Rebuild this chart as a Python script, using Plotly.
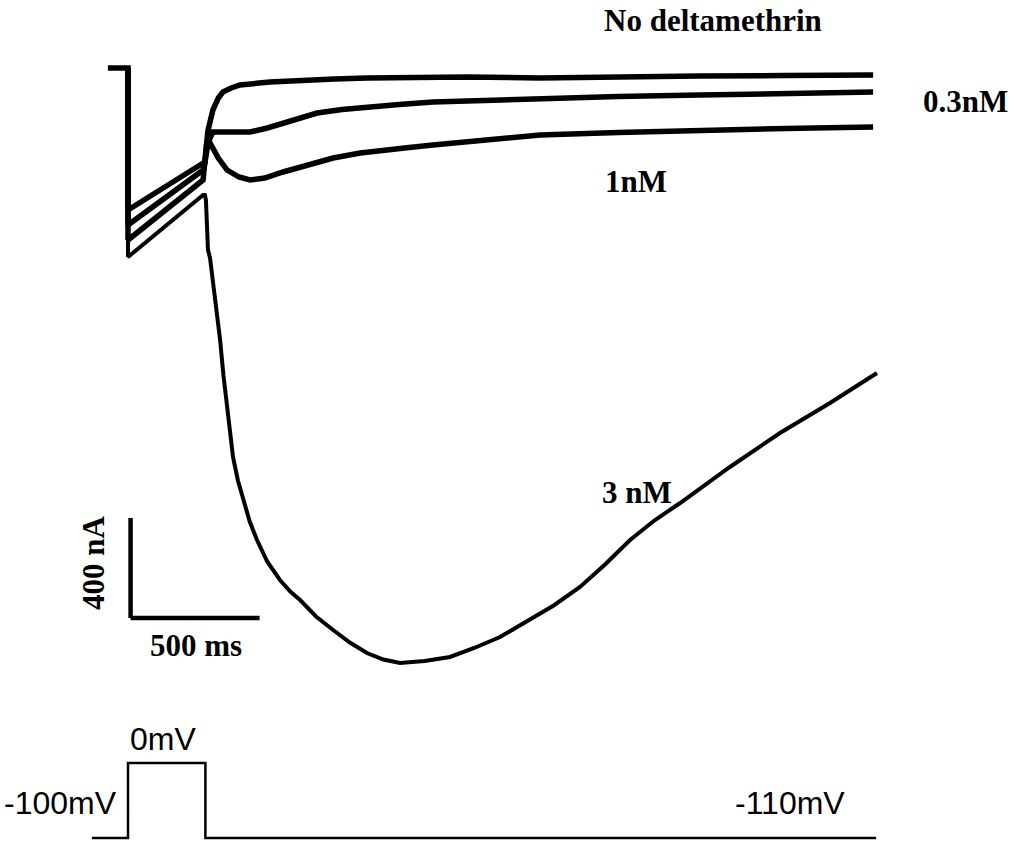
import plotly.graph_objects as go

# ---- data (time in ms, current in nA) ----
t_none = [-78, -8, 0, 0, 291, 298, 310, 329, 350, 368, 400, 434, 550, 667, 800, 926, 1100, 1314, 1597, 1900, 2217, 2550, 2888]
i_none = [0, 0, 0, -568, -376, -376, -250, -168, -120, -96, -80, -68, -56, -48, -44, -40, -38, -36, -40, -34, -32, -30, -28]

t_03 = [0, 0, 291, 298, 310, 329, 400, 473, 540, 601, 670, 733, 830, 926, 1050, 1182, 1400, 1597, 1900, 2217, 2550, 2888]
i_03 = [0, -628, -408, -380, -300, -256, -256, -256, -240, -220, -200, -180, -166, -156, -146, -136, -128, -120, -114, -108, -102, -96]

t_1 = [0, 0, 291, 298, 305, 318, 350, 384, 430, 473, 530, 601, 700, 795, 900, 988, 1090, 1182, 1280, 1376, 1480, 1597, 1900, 2217, 2550, 2888]
i_1 = [0, -688, -448, -380, -300, -300, -360, -408, -436, -448, -440, -416, -388, -360, -340, -328, -318, -308, -298, -288, -278, -268, -258, -248, -242, -236]

t_3 = [0, 0, 291, 298, 302, 310, 318, 329, 343, 357, 370, 384, 407, 426, 446, 472, 500, 540, 589, 630, 667, 730, 795, 860, 926, 990, 1054, 1150, 1248, 1342, 1442, 1558, 1650, 1752, 1850, 1946, 2040, 2140, 2333, 2527, 2721, 2903]
i_3 = [0, -756, -508, -508, -528, -728, -760, -848, -960, -1088, -1230, -1356, -1556, -1650, -1728, -1815, -1888, -1975, -2048, -2095, -2128, -2195, -2248, -2298, -2340, -2366, -2380, -2372, -2356, -2320, -2276, -2208, -2150, -2076, -1985, -1888, -1810, -1740, -1596, -1460, -1340, -1220]

# voltage protocol (0 = holding/return level, 1 = step level)
prot_t = [-140, 0, 0, 300, 300, 2900]
prot_state = [0, 0, 1, 1, 0, 0]
prot_labels = ["-100mV", "0mV", "-110mV"]

trace_labels = ["No deltamethrin", "0.3nM", "1nM", "3 nM"]
scale_time_ms = 500
scale_current_nA = 400

W, H = 1014, 841
# pixel mapping: x_px = 128 + t/3.876 ; y_px = 68 - I/4
ms_per_px = 3.876
nA_per_px = 4.0
x_range = [(0 - 128) * ms_per_px, (W - 128) * ms_per_px]
y_range = [-(H - 68) * nA_per_px, 68 * nA_per_px]

fig = go.Figure()
for tt, ii, w in [(t_none, i_none, 5.5), (t_03, i_03, 5.5), (t_1, i_1, 5.5), (t_3, i_3, 4)]:
    fig.add_trace(go.Scatter(x=tt, y=ii, mode="lines",
                             line=dict(color="black", width=w, shape="linear"),
                             showlegend=False, hoverinfo="skip"))

fig.add_trace(go.Scatter(x=prot_t, y=prot_state, mode="lines", yaxis="y2",
                         line=dict(color="black", width=2.5),
                         showlegend=False, hoverinfo="skip"))

# scale bars
sb_t0 = 10
sb_i0 = -2200
fig.add_shape(type="line", x0=sb_t0, x1=sb_t0, y0=sb_i0, y1=sb_i0 + scale_current_nA,
              xref="x", yref="y", line=dict(color="black", width=4.5))
fig.add_shape(type="line", x0=sb_t0, x1=sb_t0 + scale_time_ms, y0=sb_i0, y1=sb_i0,
              xref="x", yref="y", line=dict(color="black", width=4.5))

def px(x, y):
    return x / W, 1 - y / H

serif = dict(family="Liberation Serif", size=31, color="black")
sans = dict(family="Liberation Sans", size=32, color="black")

def ann(text, x, y, font, xanchor="center", angle=0):
    fx, fy = px(x, y)
    fig.add_annotation(text=text, x=fx, y=fy, xref="paper", yref="paper",
                       showarrow=False, font=font, xanchor=xanchor, yanchor="middle",
                       textangle=angle)

ann("<b>%s</b>" % trace_labels[0], 713, 20, serif)
ann("<b>%s</b>" % trace_labels[1], 965, 101, serif)
ann("<b>%s</b>" % trace_labels[2], 636, 182, serif)
ann("<b>%s</b>" % trace_labels[3], 637, 492, serif)
ann("<b>%d ms</b>" % scale_time_ms, 196, 645, serif)
ann("<b>%d nA</b>" % scale_current_nA, 93, 563, serif, angle=-90)

ann(prot_labels[1], 163, 739, sans)
ann(prot_labels[0], 60, 803, sans)
ann(prot_labels[2], 790, 803, sans)

fig.update_layout(
    width=W, height=H,
    margin=dict(l=0, r=0, t=0, b=0),
    paper_bgcolor="white", plot_bgcolor="white",
    xaxis=dict(range=x_range, visible=False, showgrid=False, zeroline=False),
    yaxis=dict(range=y_range, visible=False, showgrid=False, zeroline=False),
    yaxis2=dict(range=[-3 / 75, 838 / 75], overlaying="y", visible=False,
                showgrid=False, zeroline=False),
)

fig.write_html("out.html")
